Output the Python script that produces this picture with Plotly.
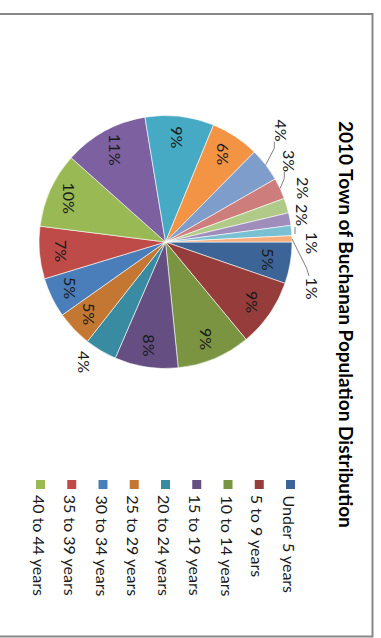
import math
import plotly.graph_objects as go

title = "2010 Town of Buchanan Population Distribution"
categories = [
    "Under 5 years", "5 to 9 years", "10 to 14 years", "15 to 19 years",
    "20 to 24 years", "25 to 29 years", "30 to 34 years", "35 to 39 years",
    "40 to 44 years", "45 to 49 years", "50 to 54 years", "55 to 59 years",
    "60 to 64 years", "65 to 69 years", "70 to 74 years", "75 to 79 years",
    "80 to 84 years", "85 years and over",
]
shares = [5.3, 8.7, 9.4, 8.1, 4.1, 4.6, 5.1, 6.7, 9.6, 10.8, 8.8, 6.2,
          4.3, 2.7, 1.9, 1.6, 1.3, 0.8]
legend_count = 9  # the reference legend is clipped after 9 entries

colors = [
    "#3C6497", "#963C3B", "#7A9442", "#644E82", "#388BA0", "#C47732",
    "#4A7EBB", "#BE4B48", "#98B954", "#7D60A0", "#46AAC5", "#F29444",
    "#7F9DCB", "#CD7D7B", "#B0CB87", "#A18DBB", "#79C0D3", "#F9AE7A",
]

W, H = 381, 638
CX, CY, R = 165.5, 242.0, 126.5
FONT = "Lato"


def px(x):
    return x / W


def py(y):
    return 1 - y / H


fig = go.Figure(go.Pie(
    labels=categories, values=shares, sort=False, direction="clockwise",
    rotation=90, textinfo="none", hoverinfo="label+percent",
    marker=dict(colors=colors, line=dict(color="white", width=0.6)),
    domain=dict(x=[px(CX - R), px(CX + R)], y=[py(CY + R), py(CY - R)]),
    showlegend=False,
))

# label placement (outside labels, with optional leader elbows) - style only
outside = {
    4: dict(pos=(85, 362), leader=None),
    12: dict(pos=(281.5, 130), leader=[(274.3, 148.3), (274.3, 141.7)]),
    13: dict(pos=(289, 161), leader=[(284.3, 178.3), (284.3, 171.7)]),
    14: dict(pos=(304, 188), leader=None),
    15: dict(pos=(303, 215), leader=None),
    16: dict(pos=(313, 243), leader="stub"),
    17: dict(pos=(312, 288.5), leader=[(306.7, 268.3), (309, 276)]),
}

annotations = []
shapes = []
total = sum(shares)
cum = 0.0
for i, v in enumerate(shares):
    mid = math.radians(360 * (cum + v / 2) / total)
    cum += v
    pct = f"{round(100 * v / total)}%"
    if i in outside:
        x, y = outside[i]["pos"]
        ld = outside[i]["leader"]
        if ld == "stub":
            shapes.append(dict(type="line", xref="paper", yref="paper",
                               x0=px(295), y0=py(227), x1=px(295), y1=py(234),
                               line=dict(color="#7f7f7f", width=1)))
        elif ld:
            pts = [(CX + R * math.cos(mid), CY + R * math.sin(mid))] + ld
            for (a, b), (c, d) in zip(pts[:-1], pts[1:]):
                shapes.append(dict(type="line", xref="paper", yref="paper",
                                   x0=px(a), y0=py(b), x1=px(c), y1=py(d),
                                   line=dict(color="#7f7f7f", width=1)))
    else:
        x = CX + 0.83 * R * math.cos(mid)
        y = CY + 0.83 * R * math.sin(mid)
    annotations.append(dict(
        x=px(x), y=py(y), xref="paper", yref="paper", text=pct,
        showarrow=False, textangle=90, xanchor="center", yanchor="middle",
        font=dict(family=FONT, size=16, color="#1a1a1a"),
    ))

# title (rotated like the whole chart)
annotations.append(dict(
    x=px(347), y=py(324), xref="paper", yref="paper", text=f"<b>{title}</b>",
    showarrow=False, textangle=90, xanchor="center", yanchor="middle",
    font=dict(family=FONT, size=19, color="#000000"),
))

# legend drawn rotated
for k in range(legend_count):
    lx = 290.5 - k * 31.25
    shapes.append(dict(type="rect", xref="paper", yref="paper",
                       x0=px(lx - 4.5), x1=px(lx + 4.5), y0=py(480), y1=py(489),
                       fillcolor=colors[k], line=dict(width=0)))
    annotations.append(dict(
        x=px(lx - 1), y=py(493), xref="paper", yref="paper", text=categories[k],
        showarrow=False, textangle=90, xanchor="center", yanchor="top",
        font=dict(family=FONT, size=16, color="#1a1a1a"),
    ))

# chart area border
shapes.append(dict(type="rect", xref="paper", yref="paper",
                   x0=px(-3), x1=px(372.5), y0=py(636.5), y1=py(14),
                   line=dict(color="#878787", width=2), fillcolor="rgba(0,0,0,0)"))

fig.update_layout(
    width=W, height=H, margin=dict(l=0, r=0, t=0, b=0),
    paper_bgcolor="white", plot_bgcolor="white",
    annotations=annotations, shapes=shapes, showlegend=False,
)

fig.write_html("out.html", include_plotlyjs=True, full_html=True,
               config={"displayModeBar": False})
